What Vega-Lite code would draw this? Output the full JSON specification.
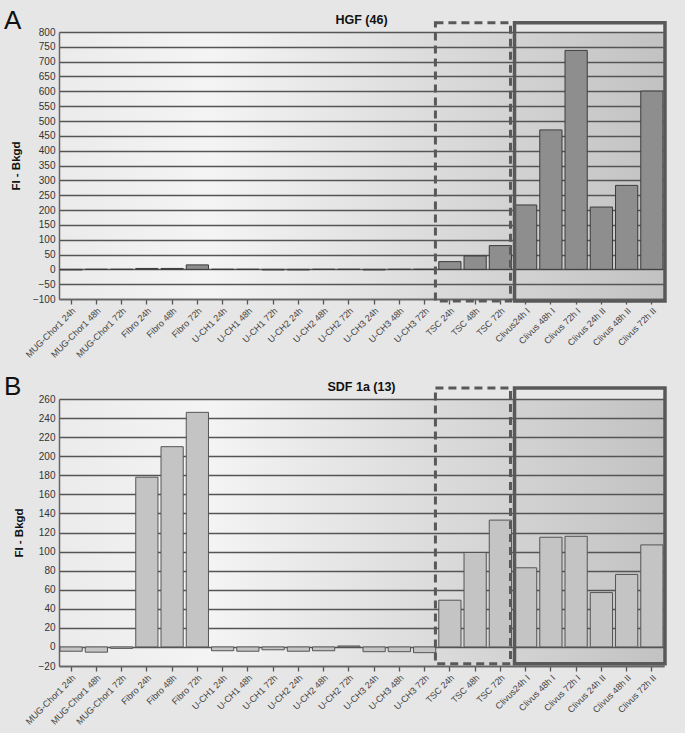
{
  "$schema": "https://vega.github.io/schema/vega-lite/v6.json",
  "background": "#e6e6e6",
  "padding": {"left": 4, "top": 8, "right": 18, "bottom": 6},
  "bounds": "flush",
  "spacing": 100,
  "config": {
    "font": "Liberation Sans",
    "view": {
      "stroke": null,
      "fill": {
        "gradient": "linear",
        "x1": 0, "y1": 0, "x2": 1, "y2": 0,
        "stops": [
          {"offset": 0, "color": "#ebebeb"},
          {"offset": 0.25, "color": "#f4f4f4"},
          {"offset": 1, "color": "#c2c2c2"}
        ]
      }
    },
    "axis": {
      "domainColor": "#666666",
      "domainWidth": 1.5,
      "labelColor": "#333333",
      "labelFont": "Liberation Sans",
      "titleFont": "Liberation Sans"
    }
  },
  "datasets": {
    "hgf": [
      {"sample": "MUG-Chor1 24h", "value": -2},
      {"sample": "MUG-Chor1 48h", "value": 0},
      {"sample": "MUG-Chor1 72h", "value": 0},
      {"sample": "Fibro 24h", "value": 3},
      {"sample": "Fibro 48h", "value": 3},
      {"sample": "Fibro 72h", "value": 15},
      {"sample": "U-CH1 24h", "value": 0},
      {"sample": "U-CH1 48h", "value": 0},
      {"sample": "U-CH1 72h", "value": -2},
      {"sample": "U-CH2 24h", "value": -2},
      {"sample": "U-CH2 48h", "value": 0},
      {"sample": "U-CH2 72h", "value": 0},
      {"sample": "U-CH3 24h", "value": -2},
      {"sample": "U-CH3 48h", "value": 0},
      {"sample": "U-CH3 72h", "value": 0},
      {"sample": "TSC 24h", "value": 26},
      {"sample": "TSC 48h", "value": 45},
      {"sample": "TSC 72h", "value": 80},
      {"sample": "Clivus24h I", "value": 217},
      {"sample": "Clivus 48h I", "value": 470},
      {"sample": "Clivus 72h I", "value": 738},
      {"sample": "Clivus 24h II", "value": 210},
      {"sample": "Clivus 48h II", "value": 283},
      {"sample": "Clivus 72h II", "value": 601}
    ],
    "sdf": [
      {"sample": "MUG-Chor1 24h", "value": -4.5},
      {"sample": "MUG-Chor1 48h", "value": -5.5},
      {"sample": "MUG-Chor1 72h", "value": -1.5},
      {"sample": "Fibro 24h", "value": 178},
      {"sample": "Fibro 48h", "value": 210},
      {"sample": "Fibro 72h", "value": 246},
      {"sample": "U-CH1 24h", "value": -4},
      {"sample": "U-CH1 48h", "value": -4.5},
      {"sample": "U-CH1 72h", "value": -3},
      {"sample": "U-CH2 24h", "value": -4.5},
      {"sample": "U-CH2 48h", "value": -4},
      {"sample": "U-CH2 72h", "value": 1},
      {"sample": "U-CH3 24h", "value": -5},
      {"sample": "U-CH3 48h", "value": -5},
      {"sample": "U-CH3 72h", "value": -6},
      {"sample": "TSC 24h", "value": 49},
      {"sample": "TSC 48h", "value": 99},
      {"sample": "TSC 72h", "value": 133},
      {"sample": "Clivus24h I", "value": 83},
      {"sample": "Clivus 48h I", "value": 115},
      {"sample": "Clivus 72h I", "value": 116},
      {"sample": "Clivus 24h II", "value": 57},
      {"sample": "Clivus 48h II", "value": 76},
      {"sample": "Clivus 72h II", "value": 107}
    ]
  },
  "vconcat": [
    {
      "width": 605,
      "height": 267,
      "data": {"name": "hgf"},
      "encoding": {
        "x": {
          "field": "sample", "type": "nominal", "sort": null,
          "scale": {"paddingInner": 0.12, "paddingOuter": 0.04},
          "axis": {"title": null, "labelAngle": -45, "labelFontSize": 9, "labelColor": "#444444", "tickColor": "#555555", "tickSize": 5, "tickWidth": 1.3, "labelPadding": 2, "grid": false, "labelOverlap": false}
        }
      },
      "layer": [
        {
          "mark": {"type": "bar", "fill": "#8e8e8e", "stroke": "#3c3c3c", "strokeWidth": 1},
          "encoding": {
            "y": {
              "field": "value", "type": "quantitative",
              "scale": {"domain": [-100, 800], "nice": false, "zero": false},
              "axis": {
                "title": "FI - Bkgd", "titleFontSize": 11.5, "titleFontWeight": "bold", "titleColor": "#111111", "titlePadding": 11,
                "values": [-100, -50, 0, 50, 100, 150, 200, 250, 300, 350, 400, 450, 500, 550, 600, 650, 700, 750, 800],
                "tickCount": 40,
                "ticks": false, "labelPadding": 4, "labelFontSize": 10, "labelOverlap": false,
                "grid": true, "gridColor": "#555555", "gridWidth": 1.3
              }
            }
          }
        },
        {
          "data": {"values": [{}]},
          "mark": {"type": "rect", "fill": null, "stroke": "#595959", "strokeWidth": 3, "strokeDash": [8, 5]},
          "encoding": {
            "x": {"datum": "TSC 24h", "bandPosition": -0.15},
            "x2": {"datum": "TSC 72h", "bandPosition": 0.955},
            "y": {"datum": 831},
            "y2": {"datum": -107}
          }
        },
        {
          "data": {"values": [{}]},
          "mark": {"type": "rect", "fill": null, "stroke": "#595959", "strokeWidth": 3.5},
          "encoding": {
            "x": {"datum": "Clivus24h I", "bandPosition": 0},
            "x2": {"datum": "Clivus 72h II", "bandPosition": 1.09},
            "y": {"datum": 831},
            "y2": {"datum": -107}
          }
        },
        {
          "data": {"values": [{}]},
          "mark": {"type": "text", "text": "HGF (46)", "fontSize": 12.5, "fontWeight": "bold", "font": "Liberation Sans", "align": "center", "baseline": "alphabetic", "dy": -8, "color": "#111111"},
          "encoding": {
            "x": {"datum": "U-CH3 24h", "bandPosition": -0.068},
            "y": {"datum": 800}
          }
        },
        {
          "data": {"values": [{}]},
          "mark": {"type": "text", "text": "A", "fontSize": 26, "font": "Liberation Sans", "align": "left", "baseline": "alphabetic", "dx": -56, "dy": -3, "color": "#111111"},
          "encoding": {
            "x": {"datum": "MUG-Chor1 24h", "bandPosition": 0},
            "y": {"datum": 800}
          }
        }
      ]
    },
    {
      "width": 605,
      "height": 267,
      "data": {"name": "sdf"},
      "encoding": {
        "x": {
          "field": "sample", "type": "nominal", "sort": null,
          "scale": {"paddingInner": 0.12, "paddingOuter": 0.04},
          "axis": {"title": null, "labelAngle": -45, "labelFontSize": 9, "labelColor": "#444444", "tickColor": "#555555", "tickSize": 5, "tickWidth": 1.3, "labelPadding": 2, "grid": false, "labelOverlap": false}
        }
      },
      "layer": [
        {
          "mark": {"type": "bar", "fill": "#c4c4c4", "stroke": "#555555", "strokeWidth": 1},
          "encoding": {
            "y": {
              "field": "value", "type": "quantitative",
              "scale": {"domain": [-20, 260], "nice": false, "zero": false},
              "axis": {
                "title": "FI - Bkgd", "titleFontSize": 11.5, "titleFontWeight": "bold", "titleColor": "#111111", "titlePadding": 14,
                "values": [-20, 0, 20, 40, 60, 80, 100, 120, 140, 160, 180, 200, 220, 240, 260],
                "tickCount": 40,
                "ticks": false, "labelPadding": 4, "labelFontSize": 10, "labelOverlap": false,
                "grid": true, "gridColor": "#555555", "gridWidth": 1.3
              }
            }
          }
        },
        {
          "data": {"values": [{}]},
          "mark": {"type": "rect", "fill": null, "stroke": "#595959", "strokeWidth": 3, "strokeDash": [8, 5]},
          "encoding": {
            "x": {"datum": "TSC 24h", "bandPosition": -0.15},
            "x2": {"datum": "TSC 72h", "bandPosition": 0.955},
            "y": {"datum": 271.5},
            "y2": {"datum": -17.6}
          }
        },
        {
          "data": {"values": [{}]},
          "mark": {"type": "rect", "fill": null, "stroke": "#595959", "strokeWidth": 3.5},
          "encoding": {
            "x": {"datum": "Clivus24h I", "bandPosition": 0},
            "x2": {"datum": "Clivus 72h II", "bandPosition": 1.09},
            "y": {"datum": 271.5},
            "y2": {"datum": -17.6}
          }
        },
        {
          "data": {"values": [{}]},
          "mark": {"type": "text", "text": "SDF 1a (13)", "fontSize": 12.5, "fontWeight": "bold", "font": "Liberation Sans", "align": "center", "baseline": "alphabetic", "dy": -8, "color": "#111111"},
          "encoding": {
            "x": {"datum": "U-CH3 24h", "bandPosition": -0.068},
            "y": {"datum": 260}
          }
        },
        {
          "data": {"values": [{}]},
          "mark": {"type": "text", "text": "B", "fontSize": 26, "font": "Liberation Sans", "align": "left", "baseline": "alphabetic", "dx": -56, "dy": -4, "color": "#111111"},
          "encoding": {
            "x": {"datum": "MUG-Chor1 24h", "bandPosition": 0},
            "y": {"datum": 260}
          }
        }
      ]
    }
  ]
}
